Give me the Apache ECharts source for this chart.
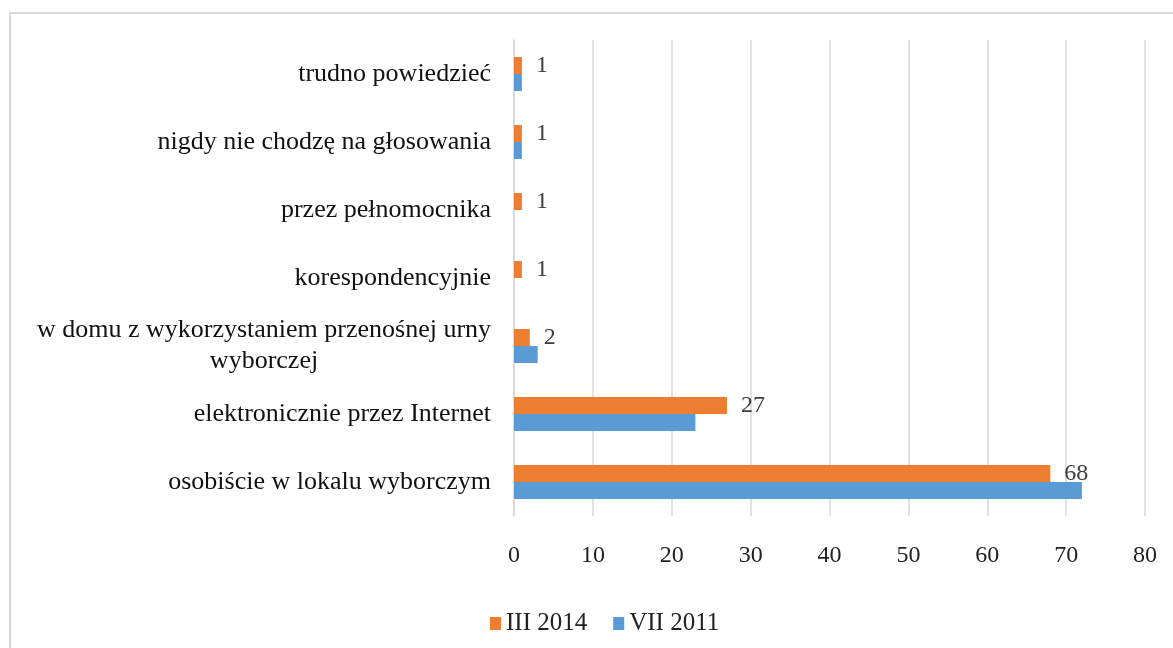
<!DOCTYPE html>
<html>
<head>
<meta charset="utf-8">
<script src="https://cdn.jsdelivr.net/npm/echarts@6/dist/echarts.min.js"></script>
<style>
  html, body { margin: 0; padding: 0; background: #fff; }
  #chart { width: 1173px; height: 648px; }
</style>
</head>
<body>
<div id="chart"></div>
<script>
// kategorie od dołu do góry
var categories = [
    'osobiście w lokalu wyborczym',
    'elektronicznie przez Internet',
    'w domu z wykorzystaniem przenośnej urny\nwyborczej',
    'korespondencyjnie',
    'przez pełnomocnika',
    'nigdy nie chodzę na głosowania',
    'trudno powiedzieć'
];
var seriesNames = ['III 2014', 'VII 2011'];
var values2014 = [68, 27, 2, 1, 1, 1, 1];
var values2011 = [72, 23, 3, 0, 0, 1, 1];
var xTicks = [0, 80, 10]; // min, max, interval

var serif = '"Liberation Serif", "Times New Roman", serif';

var chart = echarts.init(document.getElementById('chart'));
var option = {
    backgroundColor: '#fff',
    animation: false,
    graphic: [{
        type: 'rect',
        shape: { x: 10, y: 13, width: 1200, height: 700 },
        style: { fill: 'none', stroke: '#d9d9d9', lineWidth: 2 },
        silent: true
    }],
    legend: {
        data: seriesNames,
        left: 485,
        top: 606,
        itemWidth: 11,
        itemHeight: 13,
        itemGap: 26,
        icon: 'rect',
        textStyle: { fontFamily: serif, fontSize: 25, color: '#222' }
    },
    grid: { left: 514, right: 28, top: 40, bottom: 132 },
    xAxis: {
        type: 'value',
        min: xTicks[0],
        max: xTicks[1],
        interval: xTicks[2],
        axisLine: { show: false },
        axisTick: { show: false },
        splitLine: { lineStyle: { color: '#d9d9d9', width: 1.5 } },
        axisLabel: { fontFamily: serif, fontSize: 24, color: '#222', margin: 28 }
    },
    yAxis: {
        type: 'category',
        data: categories,
        axisLine: { lineStyle: { color: '#d9d9d9', width: 1.5 } },
        axisTick: { show: false },
        axisLabel: {
            fontFamily: serif,
            fontSize: 26,
            color: '#111',
            margin: 23,
            lineHeight: 31,
            formatter: function (val) {
                if (val.indexOf('\n') < 0) return val;
                // drugi wiersz wyśrodkowany jak w Excelu
                return val.split('\n').map(function (s) {
                    return '{c|' + s + '}';
                }).join('\n');
            },
            rich: {
                c: { width: 454, align: 'center', fontFamily: serif, fontSize: 26, color: '#111', lineHeight: 31 }
            }
        }
    },
    series: [
        {
            name: seriesNames[0],
            type: 'bar',
            data: values2014,
            barWidth: 17,
            barGap: '0%',
            itemStyle: { color: '#ED7D31' },
            label: {
                show: true,
                position: 'right',
                distance: 14,
                fontFamily: serif,
                fontSize: 24,
                color: '#404040'
            }
        },
        {
            name: seriesNames[1],
            type: 'bar',
            data: values2011,
            barWidth: 17,
            barGap: '0%',
            itemStyle: { color: '#5B9BD5' }
        }
    ]
};
chart.setOption(option);

window.onresize = function () {
    chart.resize();
};
</script>
</body>
</html>
